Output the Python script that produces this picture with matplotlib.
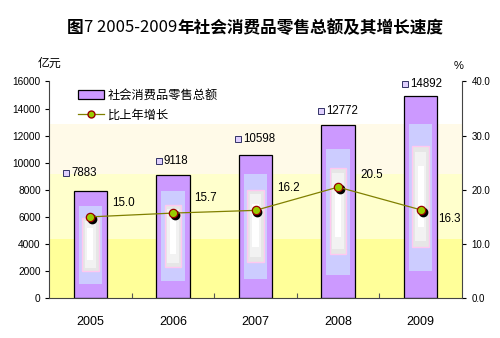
import matplotlib
matplotlib.use("Agg")
import matplotlib.pyplot as plt
import matplotlib.transforms as mtransforms
from matplotlib.patches import Patch
from matplotlib.lines import Line2D
import numpy as np

plt.rcParams["font.family"] = ["Liberation Sans", "Noto Sans CJK SC", "DejaVu Sans"]

# ── Data ───────────────────────────────────────────────────────────────────
years = ["2005", "2006", "2007", "2008", "2009"]
retail_total = [7883, 9118, 10598, 12772, 14892]      # 亿元
growth = [15.0, 15.7, 16.2, 20.5, 16.3]               # %

# label offsets (pixels) — layout only
BAR_LBL_OFF = [(-10, 18), (0, 14), (0, 16), (0, 14), (2, 12)]
PCT_LBL_OFF = [(33, 14), (33, 15), (33, 22), (34, 12), (29, -9)]

PURPLE = "#CC99FF"
BLUE = "#CCCCFF"
OLIVE = "#808000"

fig = plt.figure(figsize=(5.0, 3.38), dpi=100)
ax = fig.add_axes([0.098, 0.118, 0.826, 0.641])
ax2 = ax.twinx()

x = np.arange(len(years))
vals = np.array(retail_total, dtype=float)
w = 0.405

# background bands
ax.axhspan(0, 4360, color="#FFFF99", zorder=0, lw=0)
ax.axhspan(4360, 9170, color="#FFFFCC", zorder=0, lw=0)
ax.axhspan(9170, 12870, color="#FFFAE8", zorder=0, lw=0)

# bars with fake gradient
ax.bar(x, vals, w, color=PURPLE, edgecolor="black", linewidth=0.9, zorder=2)
ax.bar(x, vals * 0.73, w * 0.70, bottom=vals * 0.135, color=BLUE, lw=0, zorder=3)
ax.bar(x, vals * 0.50, w * 0.50, bottom=vals * 0.255, color="#E6E6E6",
       edgecolor="#FFC8F0", linewidth=1.0, zorder=4)
ax.bar(x, vals * 0.44, w * 0.34, bottom=vals * 0.285, color="#F2F2F2", lw=0, zorder=5)
ax.bar(x, vals * 0.30, w * 0.18, bottom=vals * 0.355, color="#FFFFFF", lw=0, zorder=6)

for i, v in enumerate(retail_total):
    dx, dy = BAR_LBL_OFF[i]
    n = len(str(v))
    tx = dx - (8 + n * 6.5) / 2 + 8      # text start, px from bar centre
    ax.annotate(f"{v}", xy=(x[i], v), xytext=(tx * 0.72, dy * 0.72),
                textcoords="offset points", ha="left", va="center",
                fontsize=8.3, zorder=10)
    ax.plot([x[i]], [v], marker="s", ms=4.3, mfc="#E0D0FF", mec="#333366", mew=0.7,
            transform=mtransforms.offset_copy(ax.transData, fig,
                                              x=tx - 5, y=dy, units="dots"),
            zorder=10, clip_on=False)

ax.set_xlim(-0.5, len(years) - 0.5)
ax.set_ylim(0, 16000)
ax.set_yticks(np.arange(0, 16001, 2000))
ax.set_xticks(x)
ax.set_xticklabels(years, fontsize=9)
ax.set_xticks(np.arange(0.5, len(years) - 1, 1.0), minor=True)
ax.tick_params(axis="x", which="major", length=0, pad=13)
ax.tick_params(axis="x", which="minor", direction="in", length=3.5, width=0.8, color="#555555")
ax.tick_params(axis="y", length=3, width=0.8, labelsize=7.3, pad=3)
for s in ["top", "right"]:
    ax.spines[s].set_visible(False)
ax.spines["left"].set_color("#444444")
ax.spines["bottom"].set_color("#444444")

# growth line
ax2.set_ylim(0, 40)
ax2.set_yticks(np.arange(0, 41, 10))
ax2.set_yticklabels([f"{t:.1f}" for t in np.arange(0, 41, 10)])
ax2.tick_params(axis="y", length=3, width=0.8, labelsize=7, pad=4)
for s in ["top", "left", "bottom"]:
    ax2.spines[s].set_visible(False)
ax2.spines["right"].set_color("#444444")

shadow = mtransforms.offset_copy(ax2.transData, fig, x=1.8, y=-1.8, units="dots")
ax2.plot(x, growth, ls="none", marker="o", ms=6, mfc="black", mec="black",
         transform=shadow, zorder=7)
ax2.plot(x, growth, color=OLIVE, lw=0.9, marker="o", ms=6, mfc="#99CC00",
         mec="#990000", mew=0.9, zorder=8)
for i, g in enumerate(growth):
    dx, dy = PCT_LBL_OFF[i]
    ax2.annotate(f"{g:.1f}", xy=(x[i], g), xytext=(dx * 0.72, dy * 0.72),
                 textcoords="offset points", ha="center", va="center", fontsize=8.4)

# legend
handles = [Patch(facecolor=PURPLE, edgecolor="black", linewidth=0.9),
           Line2D([], [], color=OLIVE, lw=0.9, marker="o", ms=5, mfc="#99CC00",
                  mec="#990000")]
fig.legend(handles, ["社会消费品零售总额", "比上年增长"], loc="upper left",
           bbox_to_anchor=(0.133, 0.77), frameon=False,
           handlelength=2.2, handleheight=0.8, labelspacing=0.55, handletextpad=0.3,
           prop={"family": ["Noto Sans CJK SC"], "size": 8.8})

fig.text(0.10, 0.813, "亿元", ha="center", va="center", fontsize=8.6,
         family=["Noto Sans CJK SC"])
fig.text(0.918, 0.805, "%", ha="center", va="center", fontsize=8)

# title in three pieces: bold 图, thin numbers, bold rest
parts = [("图", "bold"), ("7 2005-2009", "normal"), ("年社会消费品零售总额及其增长速度", "bold")]
renderer = fig.canvas.get_renderer()
texts = [fig.text(0, 0.918, s, ha="left", va="center", fontsize=12, fontweight=fw,
                  family=["Noto Sans CJK SC"]) for s, fw in parts]
widths = [t.get_window_extent(renderer).width for t in texts]
xpos = 255 - sum(widths) / 2
for t, wd in zip(texts, widths):
    t.set_x(xpos / 500)
    xpos += wd

fig.savefig("out.png", dpi=100)
